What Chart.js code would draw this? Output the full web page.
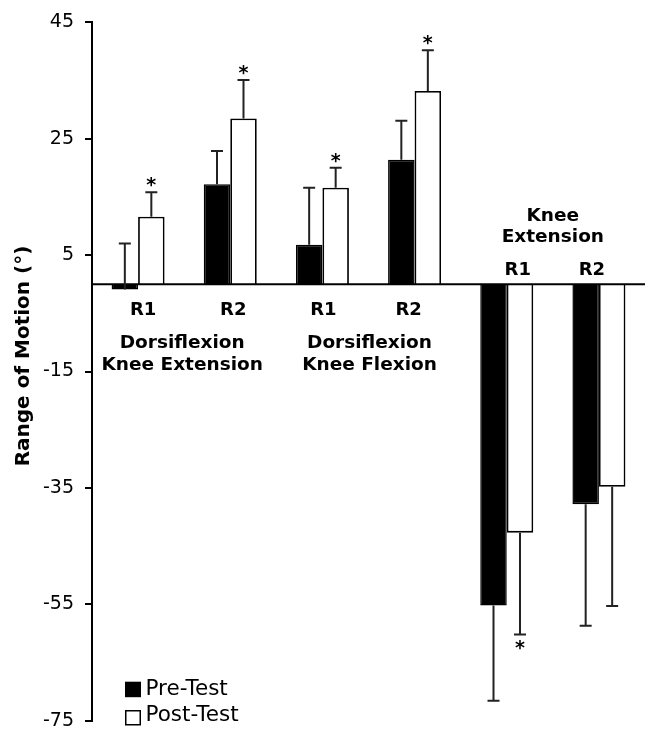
<!DOCTYPE html>
<html>
<head>
<meta charset="utf-8">
<script src="https://cdn.jsdelivr.net/npm/chart.js@4"></script>
<style>
html,body{margin:0;padding:0;background:#fff;}
#wrap{width:650px;height:743px;}
</style>
</head>
<body>
<div id="wrap"><canvas id="c" width="650" height="743"></canvas></div>
<script>
// ---- data ----
const categories = ["R1", "R2", "R1", "R2", "R1", "R2"];
const groupLabels = [["Dorsiflexion", "Knee Extension"], ["Dorsiflexion", "Knee Flexion"], ["Knee", "Extension"]];
const seriesNames = ["Pre-Test", "Post-Test"];
const preTest = [-0.9, 17.2, 6.8, 21.4, -55.2, -37.8];
const postTest = [11.6, 28.5, 16.6, 33.2, -42.7, -34.8];
const preErr = [7.9, 5.7, 9.8, 6.7, 16.4, 20.9];
const postErr = [4.2, 6.6, 3.4, 7.0, 17.5, 20.5];
const errDirection = [1, 1, 1, 1, -1, -1];
const postSignificant = [true, true, true, true, true, false];
const yTicks = [45, 25, 5, -15, -35, -55, -75];

const FONT = "'DejaVu Sans', Verdana, sans-serif";

const overlay = {
  id: 'overlay',
  afterDatasetsDraw(chart) {
    const ctx = chart.ctx;
    const xs = chart.scales.x, ys = chart.scales.y;
    const area = chart.chartArea;
    const zeroY = ys.getPixelForValue(0);
    ctx.save();
    // zero baseline
    ctx.strokeStyle = '#000';
    ctx.lineWidth = 2;
    ctx.beginPath();
    ctx.moveTo(area.left, zeroY);
    ctx.lineTo(area.right, zeroY);
    ctx.stroke();

    // error bars
    const errs = [preErr, postErr];
    const vals = [preTest, postTest];
    ctx.lineWidth = 2;
    ctx.strokeStyle = '#222';
    for (let d = 0; d < 2; d++) {
      const meta = chart.getDatasetMeta(d);
      meta.data.forEach((bar, j) => {
        const v = vals[d][j];
        const end = v + errDirection[j] * errs[d][j];
        const y1 = ys.getPixelForValue(v);
        const y2 = ys.getPixelForValue(end);
        ctx.beginPath();
        ctx.moveTo(bar.x, y1);
        ctx.lineTo(bar.x, y2);
        ctx.moveTo(bar.x - 6, y2);
        ctx.lineTo(bar.x + 6, y2);
        ctx.stroke();
        if (d === 1 && postSignificant[j]) {
          ctx.fillStyle = '#000';
          ctx.font = 'bold 19px ' + FONT;
          ctx.textAlign = 'center';
          ctx.textBaseline = 'middle';
          const off = errDirection[j] > 0 ? -6 : 15;
          ctx.fillText('*', bar.x, y2 + off);
        }
      });
    }

    // category labels
    ctx.fillStyle = '#000';
    ctx.font = 'bold 18px ' + FONT;
    ctx.textAlign = 'center';
    ctx.textBaseline = 'middle';
    const labOff = [5, 3, 1, -6, 11, -7];
    categories.forEach((c, j) => {
      const x = xs.getPixelForValue(j) + labOff[j];
      const y = errDirection[j] > 0 ? zeroY + 26 : zeroY - 14;
      ctx.fillText(c, x, y);
    });
    // group labels
    ctx.font = 'bold 18.5px ' + FONT;
    const gpos = [[0, 1, 59], [2, 3, 59], [4, 5, -68.5]];
    const gOff = [-2, 1, 0];
    groupLabels.forEach((lines, g) => {
      const cx = (xs.getPixelForValue(gpos[g][0]) + xs.getPixelForValue(gpos[g][1])) / 2 + gOff[g];
      lines.forEach((t, k) => {
        ctx.fillText(t, cx, zeroY + gpos[g][2] + k * 21.8);
      });
    });

    // legend
    ctx.font = '21.5px ' + FONT;
    ctx.textAlign = 'left';
    ctx.textBaseline = 'alphabetic';
    const lx = 125, ly = [695, 720.7];
    seriesNames.forEach((n, k) => {
      const by = k === 0 ? 681.7 : 710;
      if (k === 0) {
        ctx.fillStyle = '#000';
        ctx.fillRect(lx, by, 16, 15.5);
      } else {
        ctx.fillStyle = '#fff';
        ctx.fillRect(lx, by, 16, 15.5);
        ctx.strokeStyle = '#000';
        ctx.lineWidth = 1.5;
        ctx.strokeRect(lx + 0.75, by + 0.75, 14.5, 14);
      }
      ctx.fillStyle = '#000';
      ctx.fillText(n, 145.5, ly[k]);
    });

    // y title
    ctx.save();
    ctx.translate(24, 356);
    ctx.rotate(-Math.PI / 2);
    ctx.font = 'bold 20px ' + FONT;
    ctx.textAlign = 'center';
    ctx.textBaseline = 'middle';
    ctx.fillText('Range of Motion (°)', 0, 0);
    ctx.restore();

    ctx.restore();
  }
};

new Chart(document.getElementById('c'), {
  type: 'bar',
  data: {
    labels: categories,
    datasets: [
      { label: seriesNames[0], data: preTest, backgroundColor: '#000', borderColor: '#000', borderWidth: 1.5 },
      { label: seriesNames[1], data: postTest, backgroundColor: '#fff', borderColor: '#000', borderWidth: 1.8 }
    ]
  },
  options: {
    responsive: false,
    animation: false,
    events: [],
    layout: { padding: { top: 19, bottom: 11, right: 5, left: 0 } },
    datasets: { bar: { categoryPercentage: 0.575, barPercentage: 1 } },
    plugins: { legend: { display: false }, tooltip: { enabled: false } },
    scales: {
      x: { display: false },
      y: {
        min: -75, max: 45,
        afterBuildTicks(scale) { scale.ticks = yTicks.map(v => ({ value: v })); },
        afterFit(scale) { scale.width = 92; },
        border: { display: true, color: '#000', width: 2 },
        grid: { drawOnChartArea: false, drawTicks: true, tickLength: 7, color: '#000', lineWidth: 2 },
        ticks: { color: '#000', padding: 11, font: { family: FONT, size: 19 } }
      }
    }
  },
  plugins: [overlay]
});
</script>
</body>
</html>
